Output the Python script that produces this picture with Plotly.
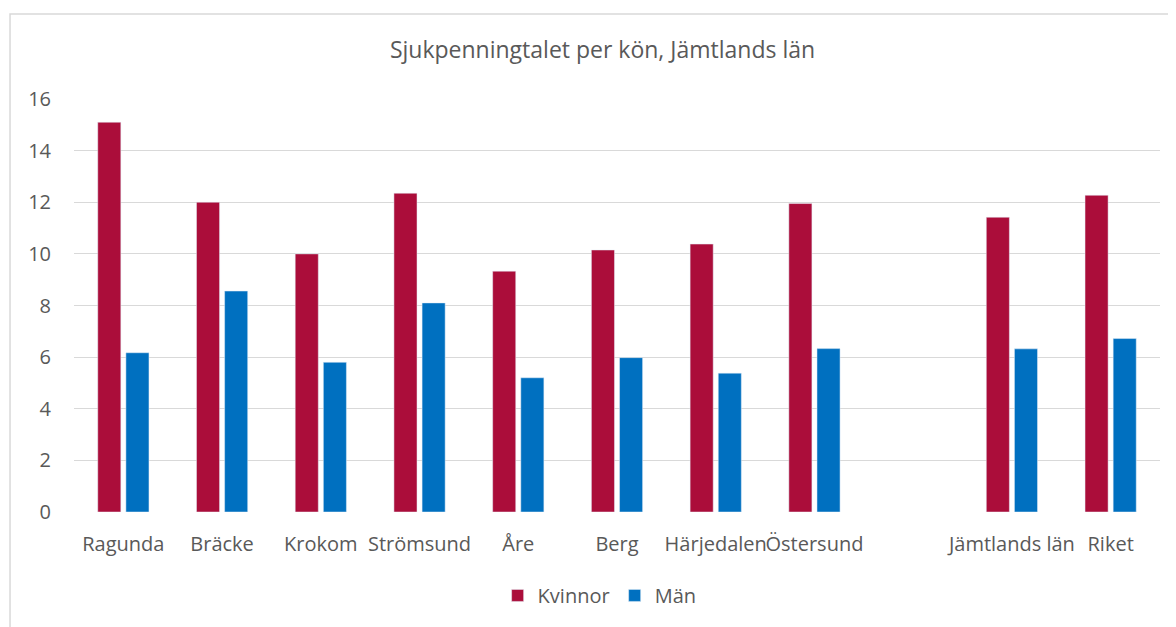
import plotly.graph_objects as go

categories = ["Ragunda", "Bräcke", "Krokom", "Strömsund", "Åre", "Berg",
              "Härjedalen", "Östersund", " ", "Jämtlands län", "Riket"]
kvinnor = [15.1, 12.0, 10.0, 12.35, 9.33, 10.15, 10.38, 11.95, None, 11.42, 12.27]
man = [6.17, 8.56, 5.8, 8.1, 5.2, 5.98, 5.38, 6.33, None, 6.32, 6.72]
y_ticks = [0, 2, 4, 6, 8, 10, 12, 14, 16]

FONT = "Open Sans"
GREY = "#595959"

W, H = 1168, 619

fig = go.Figure()
fig.add_trace(go.Bar(name="Kvinnor", x=categories, y=kvinnor,
                     marker=dict(color="#AB0D3A")))
fig.add_trace(go.Bar(name="Män", x=categories, y=man,
                     marker=dict(color="#0070C0")))

fig.update_layout(
    width=W, height=H,
    margin=dict(l=66, r=16, t=91, b=114.5),
    paper_bgcolor="white", plot_bgcolor="white",
    barmode="group", bargap=0.43, bargroupgap=0.18,
    font=dict(family=FONT, color=GREY, size=20),
    title=dict(text="Sjukpenningtalet per kön, Jämtlands län",
               x=0.509, xanchor="center", y=1 - 42 / H, yanchor="middle",
               font=dict(family=FONT, size=23, color=GREY)),
    showlegend=True,
    legend=dict(orientation="h", x=0.484, xanchor="center", y=-0.202, yanchor="middle",
                font=dict(family=FONT, size=20, color=GREY),
                itemwidth=30, traceorder="normal"),
    xaxis=dict(type="category", showgrid=False, showline=False, zeroline=False,
               ticks="", tickangle=0, ticklabelstandoff=18,
               tickfont=dict(size=20, color=GREY)),
    yaxis=dict(range=[0, 16], tickvals=y_ticks, showgrid=True, gridcolor="#D9D9D9",
               gridwidth=1.3, zeroline=False, showline=False, ticks="",
               ticklabelstandoff=22, tickfont=dict(size=20, color=GREY)),
    shapes=[dict(type="rect", xref="paper", yref="paper",
                 x0=-0.0589, x1=1.2, y0=-0.5, y1=1.2056,
                 line=dict(color="#D9D9D9", width=1.5), layer="below")],
)

fig.write_html("out.html")
